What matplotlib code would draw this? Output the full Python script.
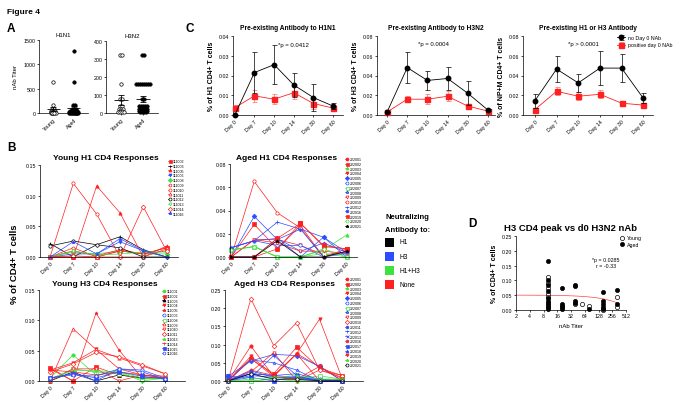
import numpy as np
import matplotlib
matplotlib.use("Agg")
import matplotlib.pyplot as plt
from matplotlib.patches import Rectangle

W, H = 683, 406
plt.rcParams['font.family'] = ['Liberation Sans', 'DejaVu Sans']
plt.rcParams['axes.linewidth'] = 0.5
plt.rcParams['xtick.major.width'] = 0.5
plt.rcParams['ytick.major.width'] = 0.5
plt.rcParams['xtick.major.size'] = 1.5
plt.rcParams['ytick.major.size'] = 1.5
plt.rcParams['xtick.major.pad'] = 1
plt.rcParams['ytick.major.pad'] = 1

# ---------------- data ----------------
days = ['Day 0', 'Day 7', 'Day 10', 'Day 14', 'Day 30', 'Day 60']
group_colors = {'H1': '#000000', 'H3': '#2b4cff', 'H1+H3': '#3ee23e', 'None': '#ff2020'}

# panel A: nAb titers
a_groups = ['Young', 'Aged']
h1n1_young = [640, 160, 80, 80, 40, 40, 40, 20, 20, 20, 10, 10, 10, 10, 5, 5]
h1n1_aged = [1280, 640, 160, 160, 80, 80, 80, 40, 40, 40, 40, 40, 20, 20, 20, 20, 20, 20,
             10, 10, 10, 10, 10, 10, 5, 5, 5, 5, 5]
h3n2_young = [320, 320, 160, 80, 80, 40, 40, 20, 20, 20, 10, 10, 5, 5, 5, 5]
h3n2_aged = [320, 320, 160, 160, 160, 160, 160, 160, 160, 160, 80, 80, 40, 40, 40, 40, 40,
             20, 20, 20, 20, 20, 10, 10, 10, 10, 10, 5, 5, 5, 5]

# panel C: mean +/- sem
c1_no = [0.0, 0.0215, 0.0255, 0.0152, 0.0088, 0.0045]
c1_no_err = [0.0, 0.0105, 0.0100, 0.0060, 0.0070, 0.0015]
c1_pos = [0.0037, 0.0097, 0.0080, 0.0113, 0.0058, 0.0035]
c1_pos_err = [0.0015, 0.0030, 0.0025, 0.0030, 0.0030, 0.0015]
c2_no = [0.003, 0.048, 0.035, 0.037, 0.022, 0.005]
c2_no_err = [0.0, 0.016, 0.010, 0.012, 0.012, 0.001]
c2_pos = [0.003, 0.016, 0.016, 0.019, 0.009, 0.004]
c2_pos_err = [0.001, 0.003, 0.005, 0.005, 0.002, 0.001]
c3_no = [0.0145, 0.0465, 0.0325, 0.0475, 0.0475, 0.017]
c3_no_err = [0.007, 0.0135, 0.0095, 0.017, 0.014, 0.005]
c3_pos = [0.0055, 0.024, 0.019, 0.021, 0.012, 0.010]
c3_pos_err = [0.002, 0.004, 0.004, 0.004, 0.002, 0.002]

# panel B: individual responses
b1_ids = ['111002', '111003', '111005', '111006', '111008', '111009', '111010', '111011',
          '111012', '111013', '111014', '111016']
b1_groups = ['None', 'H1', 'None', 'H3', 'H1+H3', 'None', 'None', 'None', 'H1', 'H1+H3', 'None', 'H3']
b1_marks = ['s', '+', '^', 'v', 'D', 'h', 'o', '^', 'o', 'v', 'D', '*']
b1_filled = [True, True, True, True, True, False, False, False, False, False, False, True]
b1_vals = [[0.0, 0.0, 0.0, 0.010, 0.005, 0.015],
           [0.022, 0.0, 0.020, 0.033, 0.012, 0.0],
           [0.0, 0.0, 0.116, 0.072, 0.0, 0.018],
           [0.0, 0.005, 0.005, 0.025, 0.010, 0.0],
           [0.0, 0.008, 0.005, 0.010, 0.005, 0.005],
           [0.0, 0.015, 0.0, 0.010, 0.005, 0.010],
           [0.0, 0.120, 0.070, 0.0, 0.0, 0.013],
           [0.0, 0.010, 0.002, 0.012, 0.005, 0.015],
           [0.018, 0.026, 0.020, 0.015, 0.0, 0.0],
           [0.0, 0.010, 0.003, 0.005, 0.008, 0.008],
           [0.0, 0.002, 0.0, 0.0, 0.082, 0.010],
           [0.0, 0.025, 0.005, 0.030, 0.010, 0.0]]

b2_ids = ['222001', '222002', '222003', '222004', '222005', '222006', '222007', '222008',
          '222009', '222010', '222012', '222016', '222019', '222020', '222021']
b2_groups = ['None', 'None', 'H1+H3', 'None', 'H3', 'H3', 'H1+H3', 'H3', 'None', 'None',
             'H3', 'H3', 'None', 'H1+H3', 'H1']
b2_marks = ['o', 's', '^', 'v', 'D', 'o', 's', '*', 'v', 'o', '+', 'h', 's', 'o', '*']
b2_filled = [True, True, True, True, True, False, False, False, False, False, True, True,
             True, False, True]
b2_vals = [[0.0, 0.0, 0.007, 0.027, 0.0, 0.007],
           [0.0, 0.028, 0.007, 0.029, 0.009, 0.007],
           [0.006, 0.009, 0.0, 0.0, 0.006, 0.019],
           [0.0, 0.015, 0.015, 0.010, 0.002, 0.004],
           [0.0, 0.035, 0.015, 0.024, 0.017, 0.0],
           [0.008, 0.014, 0.010, 0.010, 0.0, 0.003],
           [0.006, 0.009, 0.0, 0.0, 0.003, 0.0],
           [0.008, 0.014, 0.016, 0.005, 0.012, 0.004],
           [0.0, 0.015, 0.012, 0.005, 0.005, 0.003],
           [0.0, 0.065, 0.038, 0.025, 0.0, 0.005],
           [0.008, 0.014, 0.030, 0.024, 0.0, 0.004],
           [0.0, 0.0, 0.016, 0.0, 0.017, 0.004],
           [0.0, 0.0, 0.016, 0.029, 0.010, 0.007],
           [0.006, 0.009, 0.0, 0.0, 0.007, 0.0],
           [0.0, 0.0, 0.014, 0.0, 0.0, 0.005]]

b3_ids = ['111001', '111002', '111003', '111004', '111005', '111006', '111008', '111009',
          '111010', '111011', '111013', '111014', '111015', '111016']
b3_groups = ['H1+H3', 'None', 'H1', 'None', 'None', 'H3', 'H1+H3', 'None', 'None', 'None',
             'H1+H3', 'None', 'H3', 'H3']
b3_marks = ['o', 's', '^', 'v', '*', 'o', 's', '^', 'v', 'D', '*', '+', 's', 'h']
b3_filled = [True, True, True, True, True, False, False, False, False, False, True, True,
             True, False]
b3_vals = [[0.005, 0.043, 0.010, 0.015, 0.0, 0.005],
           [0.022, 0.0, 0.023, 0.010, 0.005, 0.005],
           [0.0, 0.015, 0.0, 0.010, 0.005, 0.005],
           [0.018, 0.030, 0.052, 0.020, 0.010, 0.005],
           [0.020, 0.0, 0.112, 0.051, 0.005, 0.005],
           [0.005, 0.012, 0.0, 0.020, 0.018, 0.005],
           [0.003, 0.020, 0.015, 0.012, 0.003, 0.005],
           [0.0, 0.086, 0.052, 0.038, 0.025, 0.012],
           [0.0, 0.020, 0.020, 0.0, 0.010, 0.008],
           [0.015, 0.028, 0.047, 0.040, 0.027, 0.012],
           [0.003, 0.017, 0.017, 0.015, 0.005, 0.003],
           [0.018, 0.015, 0.010, 0.015, 0.010, 0.005],
           [0.005, 0.012, 0.005, 0.015, 0.008, 0.003],
           [0.005, 0.010, 0.008, 0.020, 0.015, 0.003]]

b4_ids = ['222001', '222002', '222003', '222004', '222005', '222006', '222007', '222008',
          '222009', '222010', '222011', '222012', '222013', '222016', '222017', '222018',
          '222019', '222020', '222021']
b4_groups = ['None', 'None', 'H1+H3', 'None', 'H3', 'H3', 'H1+H3', 'H3', 'None', 'None',
             'H3', 'H3', 'H3', 'None', 'H3', 'H3', 'None', 'H1+H3', 'H1']
b4_marks = ['o', 's', '^', 'v', 'D', 'o', 's', '*', 'v', 'D', 'h', '+', 'x', 'h', 's', '^',
            'v', '*', 'o']
b4_filled = [True, True, True, True, True, False, False, False, False, False, True, True,
             True, True, True, True, True, True, False]
b4_vals = [[0.0, 0.096, 0.012, 0.075, 0.040, 0.0],
           [0.0, 0.060, 0.020, 0.093, 0.035, 0.015],
           [0.0, 0.0, 0.005, 0.0, 0.005, 0.005],
           [0.0, 0.068, 0.015, 0.075, 0.170, 0.005],
           [0.013, 0.055, 0.073, 0.070, 0.040, 0.0],
           [0.0, 0.015, 0.010, 0.010, 0.0, 0.0],
           [0.0, 0.0, 0.005, 0.005, 0.014, 0.005],
           [0.0, 0.058, 0.050, 0.030, 0.0, 0.0],
           [0.0, 0.025, 0.078, 0.0, 0.030, 0.010],
           [0.0, 0.226, 0.097, 0.160, 0.030, 0.015],
           [0.005, 0.020, 0.015, 0.010, 0.005, 0.0],
           [0.0, 0.010, 0.070, 0.015, 0.0, 0.0],
           [0.0, 0.020, 0.015, 0.020, 0.005, 0.0],
           [0.0, 0.030, 0.015, 0.075, 0.0, 0.005],
           [0.013, 0.010, 0.0, 0.013, 0.0, 0.0],
           [0.0, 0.028, 0.010, 0.007, 0.002, 0.0],
           [0.0, 0.062, 0.012, 0.005, 0.040, 0.005],
           [0.0, 0.005, 0.010, 0.015, 0.005, 0.005],
           [0.0, 0.020, 0.005, 0.005, 0.0, 0.0]]

# panel D: peak vs titer
d_aged_titer = [10, 10, 10, 10, 10, 10, 10, 10, 10, 20, 20, 20, 20, 20, 40, 40, 40, 40,
                80, 160, 160, 160, 160, 160, 320, 320]
d_aged_peak = [0.167, 0.100, 0.085, 0.065, 0.040, 0.030, 0.020, 0.010, 0.005, 0.073, 0.020,
               0.015, 0.010, 0.005, 0.085, 0.080, 0.030, 0.025, 0.005, 0.060, 0.030, 0.020,
               0.010, 0.005, 0.067, 0.020]
d_young_titer = [10, 10, 10, 10, 10, 10, 10, 40, 56, 80, 160, 320, 320]
d_young_peak = [0.113, 0.090, 0.075, 0.055, 0.045, 0.025, 0.015, 0.020, 0.020, 0.012, 0.0,
                0.045, 0.010]
d_fit_intercept = 0.0505
d_fit_slope = -0.00008

# ---------------- figure ----------------
fig = plt.figure(figsize=(W / 100, H / 100), dpi=100)


def add_ax(l, t, r, b):
    ax = fig.add_axes([l / W, 1 - b / H, (r - l) / W, (b - t) / H])
    ax.spines['top'].set_visible(False)
    ax.spines['right'].set_visible(False)
    ax.tick_params(labelsize=3.8)
    return ax


def ftext(x, y, s, **kw):
    fig.text(x / W, 1 - y / H, s, **kw)


def spread(vals, step):
    # side-by-side offsets for equal values (simple beeswarm)
    vals = np.asarray(vals, float)
    offs = np.zeros(len(vals))
    for v in np.unique(vals):
        idx = np.where(vals == v)[0]
        n = len(idx)
        st = min(step, 0.8 / max(n - 1, 1))
        offs[idx] = (np.arange(n) - (n - 1) / 2) * st
    return offs


ftext(7, 12, 'Figure 4', fontsize=6, fontweight='bold', va='center')
for lab, x, y in [('A', 7, 29), ('B', 7, 148), ('C', 185, 29), ('D', 468, 224)]:
    ftext(x, y, lab, fontsize=8.5, fontweight='bold', va='center')

# ---- panel A ----
for (l, r, top, title, young, aged, ymax, ystep) in [
        (39, 88, 41, 'H1N1', h1n1_young, h1n1_aged, 1500, 500),
        (106, 158, 42, 'H3N2', h3n2_young, h3n2_aged, 400, 100)]:
    ax = add_ax(l, top, r, 114)
    for i, (vals, filled) in enumerate([(young, False), (aged, True)]):
        v = np.asarray(vals, float)
        ax.scatter(i + spread(v, 0.09), v, s=6, facecolor='black' if filled else 'white',
                   edgecolor='black', linewidth=0.5, clip_on=False, zorder=3)
        m = v.mean()
        sem = v.std(ddof=1) / np.sqrt(len(v))
        ax.hlines(m, i - 0.32, i + 0.32, color='black', lw=0.6, zorder=4)
        ax.errorbar(i, m, yerr=sem, color='black', lw=0.6, capsize=2.5, capthick=0.6, zorder=4)
    ax.set_xlim(-0.7, 1.7)
    ax.set_ylim(0, ymax)
    ax.set_yticks(np.arange(0, ymax + 1, ystep))
    ax.set_xticks([0, 1])
    ax.set_xticklabels(a_groups, rotation=45, ha='right', rotation_mode='anchor')
    ax.set_title(title, fontsize=4.3, pad=3)
    if title == 'H1N1':
        ax.set_ylabel('nAb Titer', fontsize=4.3, labelpad=4)

# ---- panel C ----
c_specs = [(233, 343, -0.09, 5.5, 0.04, 0.01, c1_no, c1_no_err, c1_pos, c1_pos_err,
            'Pre-existing Antibody to H1N1', '% of H1 CD4+ T cells', '*p = 0.0412', 0.41, 0.89),
           (377, 495, -0.5, 5.35, 0.08, 0.02, c2_no, c2_no_err, c2_pos, c2_pos_err,
            'Pre-existing Antibody to H3N2', '% of H3 CD4+ T cells', '*p = 0.0004', 0.35, 0.91),
           (523, 653, -0.55, 5.45, 0.08, 0.02, c3_no, c3_no_err, c3_pos, c3_pos_err,
            'Pre-existing H1 or H3 Antibody', '% of NP+M CD4+ T cells', '*p > 0.0001', 0.35, 0.90)]
x6 = np.arange(len(days))
for (l, r, x0, x1, ymax, ystep, no, no_e, pos, pos_e, title, ylab, ptxt, px, py) in c_specs:
    ax = add_ax(l, 37, r, 116)
    ax.errorbar(x6, pos, yerr=pos_e, color='#ff2020', ecolor='#ff6a6a', marker='s', ms=3.6,
                lw=0.6, elinewidth=0.5, capsize=1.8, capthick=0.5, clip_on=False, zorder=3,
                label='positive day 0 NAb')
    ax.errorbar(x6, no, yerr=no_e, color='black', marker='o', ms=3.2, lw=0.6, elinewidth=0.5,
                capsize=1.8, capthick=0.5, clip_on=False, zorder=4, label='no Day 0 NAb')
    ax.set_xlim(x0, x1)
    ax.set_ylim(0, ymax)
    ax.set_yticks(np.arange(0, ymax + 1e-9, ystep))
    ax.yaxis.set_major_formatter('{x:.2f}')
    ax.set_xticks(x6)
    ax.set_xticklabels(days, rotation=45, ha='right', rotation_mode='anchor')
    ax.set_title(title, fontsize=4.8, fontweight='bold', pad=5)
    ax.set_ylabel(ylab, fontsize=5, fontweight='bold', labelpad=3)
    ax.text(px, py, ptxt, transform=ax.transAxes, fontsize=4.3, va='center')
    if ptxt.startswith('*p >'):
        h, lb = ax.get_legend_handles_labels()
        ax.legend(h[::-1], lb[::-1], loc='upper left', bbox_to_anchor=(617 / W, 1 - 36 / H),
                  bbox_transform=fig.transFigure, frameon=False, fontsize=3.8, borderpad=0,
                  borderaxespad=0, labelspacing=0.45, handlelength=1.6, handletextpad=0.5)


# ---- panel B ----
def draw_spaghetti(ax, groups, marks, filled, vals, ymax, ystep, x0, x1):
    handles = []
    for g, m, f, v in zip(groups, marks, filled, vals):
        c = group_colors[g]
        h, = ax.plot(x6, v, color=c, lw=0.5, marker=m, ms=2.4, mew=0.5,
                     mfc=c if f else 'white', mec=c, clip_on=False)
        handles.append(h)
    ax.set_xlim(x0, x1)
    ax.set_ylim(0, ymax)
    ax.set_yticks(np.arange(0, ymax + 1e-9, ystep))
    ax.yaxis.set_major_formatter('{x:.2f}')
    ax.set_xticks(x6)
    ax.set_xticklabels(days, rotation=45, ha='right', rotation_mode='anchor')
    return handles


b_specs = [((40, 166, 178, 258), -0.43, 5.49, 0.15, 0.05, b1_ids, b1_groups, b1_marks, b1_filled,
            b1_vals, 'Young H1 CD4 Responses', (106, 159), (168, 160)),
           ((230, 165, 357, 258), -0.05, 5.45, 0.08, 0.02, b2_ids, b2_groups, b2_marks, b2_filled,
            b2_vals, 'Aged H1 CD4 Responses', (287, 159), (345, 158)),
           ((39, 291, 185, 382), -0.48, 5.87, 0.15, 0.05, b3_ids, b3_groups, b3_marks, b3_filled,
            b3_vals, 'Young H3 CD4 Responses', (105, 284), (162, 290)),
           ((225, 291, 363, 382), -0.13, 5.9, 0.25, 0.05, b4_ids, b4_groups, b4_marks, b4_filled,
            b4_vals, 'Aged H3 CD4 Responses', (285, 284), (345, 278))]
for (box, x0, x1, ymax, ystep, ids, groups, marks, filled, vals, title, tpos, lpos) in b_specs:
    ax = add_ax(*box)
    hs = draw_spaghetti(ax, groups, marks, filled, vals, ymax, ystep, x0, x1)
    ftext(tpos[0], tpos[1], title, fontsize=6, fontweight='bold', ha='center', va='center')
    ax.legend(hs, ids, loc='upper left', bbox_to_anchor=(lpos[0] / W, 1 - lpos[1] / H),
              bbox_transform=fig.transFigure, frameon=False, fontsize=2.6, borderpad=0,
              borderaxespad=0, labelspacing=0.22, handlelength=0.9, handletextpad=0.4,
              markerscale=0.9)

ftext(15, 264, '% of CD4+ T cells', fontsize=6.8, fontweight='bold', rotation=90,
      ha='center', va='center')

# neutralizing antibody key
ftext(385, 218, 'Neutralizing', fontsize=5.5, fontweight='bold', va='center')
ftext(385, 231, 'Antibody to:', fontsize=5.5, fontweight='bold', va='center')
for i, g in enumerate(['H1', 'H3', 'H1+H3', 'None']):
    yc = 243 + i * 14.3
    fig.patches.append(Rectangle((385 / W, 1 - (yc + 4.5) / H), 9 / W, 9 / H,
                                 transform=fig.transFigure, facecolor=group_colors[g],
                                 edgecolor='none'))
    ftext(399, yc, g, fontsize=4.8, va='center')

# ---- panel D ----
ax = add_ax(516, 237, 626, 311)
ax.scatter(d_young_titer, d_young_peak, s=9, facecolor='white', edgecolor='black',
           linewidth=0.5, clip_on=False, zorder=3, label='Young')
ax.scatter(d_aged_titer, d_aged_peak, s=9, facecolor='black', edgecolor='black',
           linewidth=0.5, clip_on=False, zorder=3, label='Aged')
fx = np.linspace(2, 320, 200)
ax.plot(fx, d_fit_intercept + d_fit_slope * fx, color='#ff4040', lw=0.5, zorder=2)
ax.set_xscale('log', base=2)
ax.set_xlim(2, 512)
ax.set_ylim(0, 0.25)
xt = [2, 4, 8, 16, 32, 64, 128, 256, 512]
ax.set_xticks(xt)
ax.set_xticklabels([str(t) for t in xt])
ax.minorticks_off()
ax.set_yticks(np.arange(0, 0.2501, 0.05))
ax.yaxis.set_major_formatter('{x:.2f}')
ax.set_xlabel('nAb Titer', fontsize=4.3, labelpad=3)
ax.set_ylabel('% of CD4+ T cells', fontsize=5, fontweight='bold', labelpad=3)
ax.set_title('H3 CD4 peak vs d0 H3N2 nAb', fontsize=6.8, fontweight='bold', pad=4)
ax.text(0.82, 0.68, '*p = 0.0285', transform=ax.transAxes, fontsize=3.8, ha='center', va='center')
ax.text(0.82, 0.60, 'r = -0.33', transform=ax.transAxes, fontsize=3.8, ha='center', va='center')
ax.legend(loc='upper left', bbox_to_anchor=(619 / W, 1 - 236 / H), bbox_transform=fig.transFigure,
          frameon=False, fontsize=3.8, borderpad=0, borderaxespad=0, labelspacing=0.3,
          handlelength=1.0, handletextpad=0.5, markerscale=1.0)

fig.savefig('out.png', dpi=100)
